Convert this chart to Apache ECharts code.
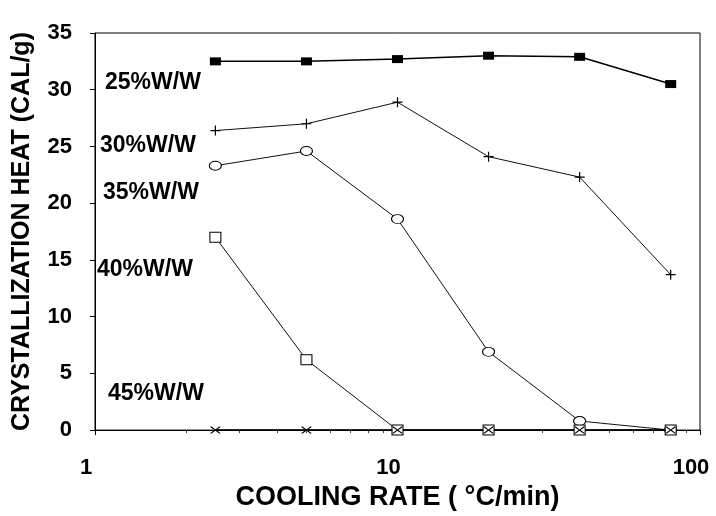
<!DOCTYPE html>
<html>
<head>
<meta charset="utf-8">
<script src="https://cdn.jsdelivr.net/npm/echarts@6/dist/echarts.min.js"></script>
<style>
html,body{margin:0;padding:0;background:#fff;}
#chart{width:716px;height:516px;}
</style>
</head>
<body>
<div id="chart"></div>
<script>
// Data
const coolingRates = [2.5, 5, 10, 20, 40, 80];
const heat25 = [32.5, 32.5, 32.7, 33.0, 32.9, 30.5];
const heat30 = [26.4, 27.0, 28.9, 24.1, 22.3, 13.7];
const heat35 = [23.3, 24.6, 18.6, 6.9, 0.8, 0];
const heat40 = [17.0, 6.2, 0, 0, 0, 0];
const heat45 = [0, 0, 0, 0, 0, 0];
const seriesNames = ['25%W/W', '30%W/W', '35%W/W', '40%W/W', '45%W/W'];
const yTicks = [0, 5, 10, 15, 20, 25, 30, 35];
const xTicks = [1, 10, 100];

const pairs = (vals) => coolingRates.map((x, i) => [x, vals[i]]);

const FONT = '"Liberation Sans", Arial, sans-serif';
const plusPath = 'path://M4.4,0H5.6V10H4.4Z M0,4.4H10V5.6H0Z';
const crossPath = 'path://M0,0H1.2L5,2.4L8.8,0H10V0.5L5.9,3L10,5.5V6H8.8L5,3.6L1.2,6H0V5.5L4.1,3L0,0.5Z';

const chart = echarts.init(document.getElementById('chart'), null, {renderer: 'canvas'});

const lineStyleThin = {color: '#111', width: 1};

chart.setOption({
  animation: false,
  backgroundColor: '#fff',
  grid: {left: 95, right: 16, top: 33, bottom: 84, show: true, borderColor: '#000', borderWidth: 1, backgroundColor: 'transparent'},
  xAxis: {
    type: 'log', logBase: 10, min: xTicks[0], max: xTicks[xTicks.length - 1],
    name: 'COOLING RATE ( °C/min)', nameLocation: 'middle', nameGap: 53,
    nameTextStyle: {fontFamily: FONT, fontWeight: 'bold', fontSize: 27, color: '#000'},
    axisLine: {show: true, onZero: false, lineStyle: {color: '#000', width: 1}},
    axisTick: {show: true, inside: false, length: 5, lineStyle: {color: '#000'}},
    minorTick: {show: true, splitNumber: 9, length: 3, lineStyle: {color: '#444'}},
    splitLine: {show: false},
    axisLabel: {fontFamily: FONT, fontWeight: 'bold', fontSize: 22, color: '#000', margin: 27, padding: [0, 18, 0, 0]}
  },
  yAxis: {
    type: 'value', min: yTicks[0], max: yTicks[yTicks.length - 1], interval: 5,
    name: 'CRYSTALLIZATION HEAT (CAL/g)', nameLocation: 'middle', nameGap: 60,
    nameTextStyle: {fontFamily: FONT, fontWeight: 'bold', fontSize: 25, color: '#000'},
    axisLine: {show: true, lineStyle: {color: '#000', width: 1}},
    axisTick: {show: true, inside: false, length: 5, lineStyle: {color: '#000'}},
    splitLine: {show: false},
    axisLabel: {fontFamily: FONT, fontWeight: 'bold', fontSize: 22, color: '#000', margin: 23}
  },
  series: [
    {name: seriesNames[0], type: 'line', data: pairs(heat25), symbol: 'rect', symbolSize: [11, 8],
      lineStyle: {color: '#000', width: 1.5}, itemStyle: {color: '#000'}},
    {name: seriesNames[1], type: 'line', data: pairs(heat30), symbol: plusPath, symbolSize: 10,
      lineStyle: lineStyleThin, itemStyle: {color: '#000'}},
    {name: seriesNames[2], type: 'line', data: pairs(heat35), symbol: 'circle', symbolSize: [12, 9],
      lineStyle: lineStyleThin, itemStyle: {color: '#fff', borderColor: '#000', borderWidth: 1}},
    {name: seriesNames[3], type: 'line', data: pairs(heat40), symbol: 'rect', symbolSize: [11, 10],
      lineStyle: lineStyleThin, itemStyle: {color: '#fff', borderColor: '#000', borderWidth: 1}},
    {name: seriesNames[4], type: 'line', data: pairs(heat45), symbol: crossPath, symbolSize: [10, 7],
      lineStyle: {color: '#000', width: 1.5}, itemStyle: {color: '#000'}}
  ],
  graphic: [
    {type: 'text', left: 105, top: 71, style: {text: seriesNames[0], font: 'bold 23px ' + FONT, fill: '#000'}},
    {type: 'text', left: 100, top: 134, style: {text: seriesNames[1], font: 'bold 23px ' + FONT, fill: '#000'}},
    {type: 'text', left: 103, top: 181, style: {text: seriesNames[2], font: 'bold 23px ' + FONT, fill: '#000'}},
    {type: 'text', left: 97, top: 258, style: {text: seriesNames[3], font: 'bold 23px ' + FONT, fill: '#000'}},
    {type: 'text', left: 108, top: 382, style: {text: seriesNames[4], font: 'bold 23px ' + FONT, fill: '#000'}}
  ]
});
</script>
</body>
</html>
